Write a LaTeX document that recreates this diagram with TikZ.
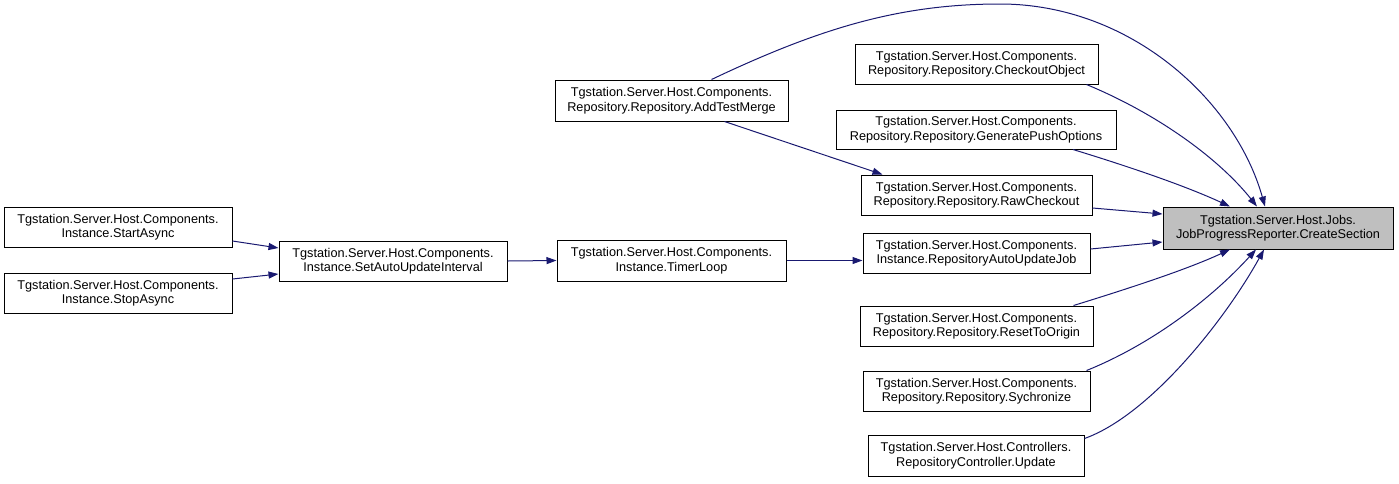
\documentclass[tikz,border=0pt]{standalone}
\usepackage{fontspec}
\setmainfont{Liberation Sans}
\usetikzlibrary{arrows.meta,calc}
\definecolor{edgeblue}{HTML}{191970}
\definecolor{tgtfill}{HTML}{BFBFBF}
\begin{document}
\begin{tikzpicture}[x=1pt,y=-1pt,
  fn/.style={draw=black,line width=1pt,fill=white,align=center,inner sep=0pt,
    minimum height=40pt,font=\fontsize{12.7}{14.5}\selectfont},
  tgtbox/.style={fn,fill=tgtfill},
  cedge/.style={draw=edgeblue,line width=1pt,-{Triangle[length=10pt,width=7pt]}}]
\useasboundingbox (0,0) rectangle (1399,483);
% nodes
\node[tgtbox,minimum width=230pt,minimum height=42pt] (tgt) at (1278,228) {Tgstation.Server.Host.Jobs.\\JobProgressReporter.CreateSection};
\node[fn,minimum width=233pt,minimum height=41pt] (atm) at (671.5,100.5) {Tgstation.Server.Host.Components.\\Repository.Repository.AddTestMerge};
\node[fn,minimum width=243pt] (chk) at (976.5,64) {Tgstation.Server.Host.Components.\\Repository.Repository.CheckoutObject};
\node[fn,minimum width=280pt,minimum height=39pt] (gpo) at (976,129.5) {Tgstation.Server.Host.Components.\\Repository.Repository.GeneratePushOptions};
\node[fn,minimum width=231pt] (raw) at (976.5,195) {Tgstation.Server.Host.Components.\\Repository.Repository.RawCheckout};
\node[fn,minimum width=227pt] (rauj) at (976.5,253) {Tgstation.Server.Host.Components.\\Instance.RepositoryAutoUpdateJob};
\node[fn,minimum width=233pt] (rto) at (976.5,326) {Tgstation.Server.Host.Components.\\Repository.Repository.ResetToOrigin};
\node[fn,minimum width=227pt] (syc) at (976.5,391) {Tgstation.Server.Host.Components.\\Repository.Repository.Sychronize};
\node[fn,minimum width=216pt,minimum height=41pt] (upd) at (976,455.5) {Tgstation.Server.Host.Controllers.\\RepositoryController.Update};
\node[fn,minimum width=228pt] (start) at (118,227) {Tgstation.Server.Host.Components.\\Instance.StartAsync};
\node[fn,minimum width=228pt] (stop) at (118,293) {Tgstation.Server.Host.Components.\\Instance.StopAsync};
\node[fn,minimum width=228pt] (sau) at (393,261) {Tgstation.Server.Host.Components.\\Instance.SetAutoUpdateInterval};
\node[fn,minimum width=229pt,minimum height=41pt] (tl) at (671.5,260.5) {Tgstation.Server.Host.Components.\\Instance.TimerLoop};
% edges
\draw[cedge] ($(start.east)+(0,14)$) -- ($(sau.west)+(0,-13)$);
\draw[cedge] ($(stop.east)+(0,-14)$) -- ($(sau.west)+(0,13)$);
\draw[cedge] (sau.east) -- (tl.west);
\draw[cedge] (tl.east) -- (tl.east -| rauj.west);
\draw[cedge] ($(atm.south)+(53,0)$) -- ($(raw.north west)+(22,0)$);
\draw[cedge] ($(atm.north)+(40,0)$) .. controls (820,28) and (900,4) .. (1000,4)
   .. controls (1130,4) and (1235,100) .. ($(tgt.north)+(-13,0)$);
\draw[cedge] ($(chk.south)+(110,0)$) .. controls (1160,115) and (1220,160) .. ($(tgt.north)+(-21,0)$);
\draw[cedge] ($(gpo.south)+(97,0)$) .. controls (1140,170) and (1190,188) .. ($(tgt.north)+(-48,0)$);
\draw[cedge] ($(raw.east)+(0,13)$) -- ($(tgt.west)+(0,-14)$);
\draw[cedge] ($(rauj.east)+(0,-4)$) -- ($(tgt.west)+(0,14)$);
\draw[cedge] ($(rto.north)+(97,0)$) .. controls (1140,285) and (1190,268) .. ($(tgt.south)+(-48,0)$);
\draw[cedge] ($(syc.north)+(110,0)$) .. controls (1150,345) and (1210,300) .. ($(tgt.south)+(-22,0)$);
\draw[cedge] ($(upd.east)+(0,-17)$) .. controls (1150,415) and (1225,320) .. ($(tgt.south)+(-14,0)$);
\end{tikzpicture}
\end{document}
